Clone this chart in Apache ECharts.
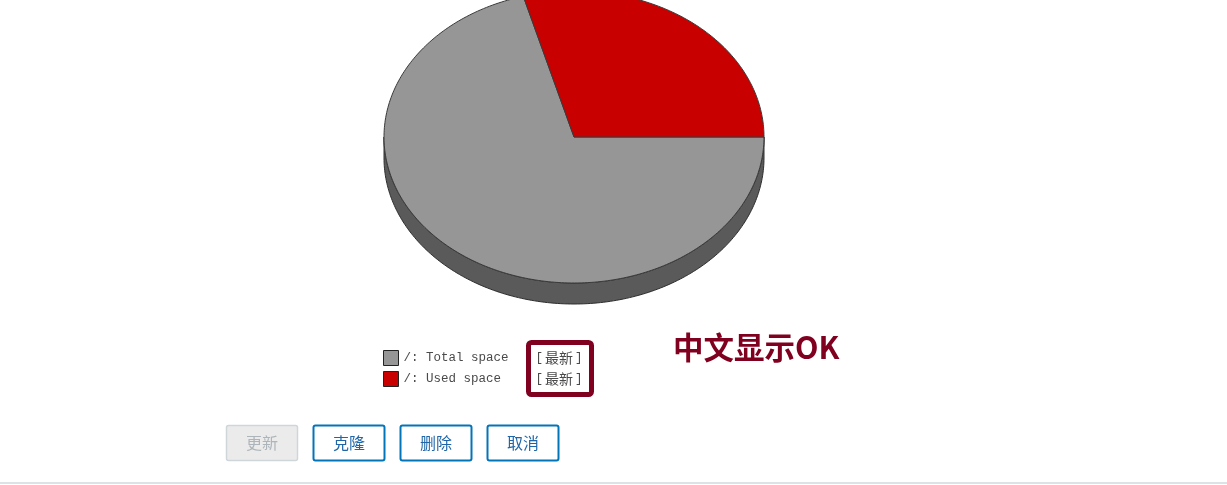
<!DOCTYPE html>
<html>
<head>
<meta charset="utf-8">
<script src="https://cdn.jsdelivr.net/npm/echarts@6/dist/echarts.min.js"></script>
<style>
html,body{margin:0;padding:0;background:#fff;}
#chart{width:1227px;height:485px;}
</style>
</head>
<body>
<div id="chart"></div>
<script>
// ---- data ----
const categories = ['/: Total space', '/: Used space'];
const values = [70.7, 29.3];
const legendTag = '[最新]';
const noteText = '中文显示OK';
const buttonLabels = ['更新', '克隆', '删除', '取消'];

// ---- styling / layout ----
const topColors = ['#969696', '#c80000'];
const sideColors = ['#5a5a5a', '#7a0000'];
const CX = 574, CY = 137, RX = 190, RY = 146, DEPTH = 21;

function arcPts(a0, a1, cy) {
  const n = Math.max(4, Math.ceil(Math.abs(a1 - a0) / (Math.PI / 180)));
  const pts = [];
  for (let k = 0; k <= n; k++) {
    const t = a0 + (a1 - a0) * k / n;
    pts.push([CX + RX * Math.cos(t), cy + RY * Math.sin(t)]);
  }
  return pts;
}

function renderSlice(params, api) {
  const idx = params.seriesIndex;
  const total = values.reduce((a, b) => a + b, 0);
  let before = 0;
  for (let i = 0; i < idx; i++) before += values[i];
  const v = api.value(0);
  const a0 = before / total * Math.PI * 2;
  const a1 = (before + v) / total * Math.PI * 2;
  const children = [];
  const s = Math.max(a0, 0), e = Math.min(a1, Math.PI);
  if (e > s) {
    const pts = arcPts(s, e, CY).concat(arcPts(e, s, CY + DEPTH));
    children.push({
      type: 'polygon', shape: { points: pts },
      style: { fill: sideColors[idx], stroke: '#2e2e2e', lineWidth: 1 }
    });
  }
  const topPts = [[CX, CY]].concat(arcPts(a0, a1, CY));
  children.push({
    type: 'polygon', shape: { points: topPts },
    style: { fill: topColors[idx], stroke: '#3a3a3a', lineWidth: 1 }
  });
  return { type: 'group', children: children };
}

const series = categories.map((name, i) => ({
  type: 'custom',
  name: name,
  coordinateSystem: 'none',
  itemStyle: { color: topColors[i], borderColor: '#222', borderWidth: 1 },
  renderItem: renderSlice,
  data: [[values[i]]],
  silent: true
}));

const blueBtn = '#0275b8';
const graphics = [];
// annotation box
graphics.push({
  type: 'rect',
  shape: { x: 528.5, y: 342.5, width: 63, height: 52, r: 3 },
  style: { fill: 'none', stroke: '#800020', lineWidth: 5 }
});
graphics.push({
  type: 'text',
  x: 673, y: 347,
  style: {
    text: noteText, fill: '#800020',
    fontSize: 30.5, fontWeight: 'bold', fontFamily: '"Noto Sans CJK SC", "Noto Sans", sans-serif',
    textVerticalAlign: 'middle', textAlign: 'left'
  }
});
const btnX = [226, 313, 400, 487];
buttonLabels.forEach((lab, i) => {
  const disabled = i === 0;
  graphics.push({
    type: 'rect',
    shape: { x: btnX[i] + 0.5, y: 425.5, width: 71, height: 35, r: 2 },
    style: disabled
      ? { fill: '#ebebeb', stroke: '#cfd6da', lineWidth: 1.5 }
      : { fill: '#fff', stroke: blueBtn, lineWidth: 2 }
  });
  graphics.push({
    type: 'text',
    x: btnX[i] + 36, y: 443,
    style: {
      text: lab, fill: disabled ? '#adb5ba' : '#1f66a8',
      fontSize: 16, fontFamily: '"Noto Sans CJK SC", sans-serif',
      textAlign: 'center', textVerticalAlign: 'middle'
    }
  });
});
graphics.push({
  type: 'rect',
  shape: { x: 0, y: 482, width: 1227, height: 2 },
  style: { fill: '#dde2e5' }
});

const chart = echarts.init(document.getElementById('chart'), null, { renderer: 'canvas' });
chart.setOption({
  animation: false,
  backgroundColor: '#fff',
  legend: {
    left: 383, top: 350,
    padding: 0,
    orient: 'vertical',
    itemWidth: 15, itemHeight: 15, itemGap: 5,
    icon: 'rect',
    selectedMode: false,
    data: categories,
    itemStyle: { borderColor: '#222', borderWidth: 1 },
    formatter: function (name) {
      return '{n|' + name + '}{b|[}{c|' + legendTag.slice(1, -1) + '}{b|]}';
    },
    textStyle: {
      color: '#4a4a4a',
      lineHeight: 15,
      rich: {
        n: { width: 132, lineHeight: 15, fontFamily: '"Liberation Mono", monospace', fontSize: 12.5, color: '#4a4a4a' },
        b: { lineHeight: 15, fontFamily: '"Liberation Mono", monospace', fontSize: 12.5, color: '#4a4a4a' },
        c: { lineHeight: 15, fontFamily: '"Noto Sans CJK SC", sans-serif', fontSize: 14, color: '#4a4a4a', padding: [0, 2, 0, 2] }
      }
    }
  },
  graphic: graphics,
  series: series
});
</script>
</body>
</html>
